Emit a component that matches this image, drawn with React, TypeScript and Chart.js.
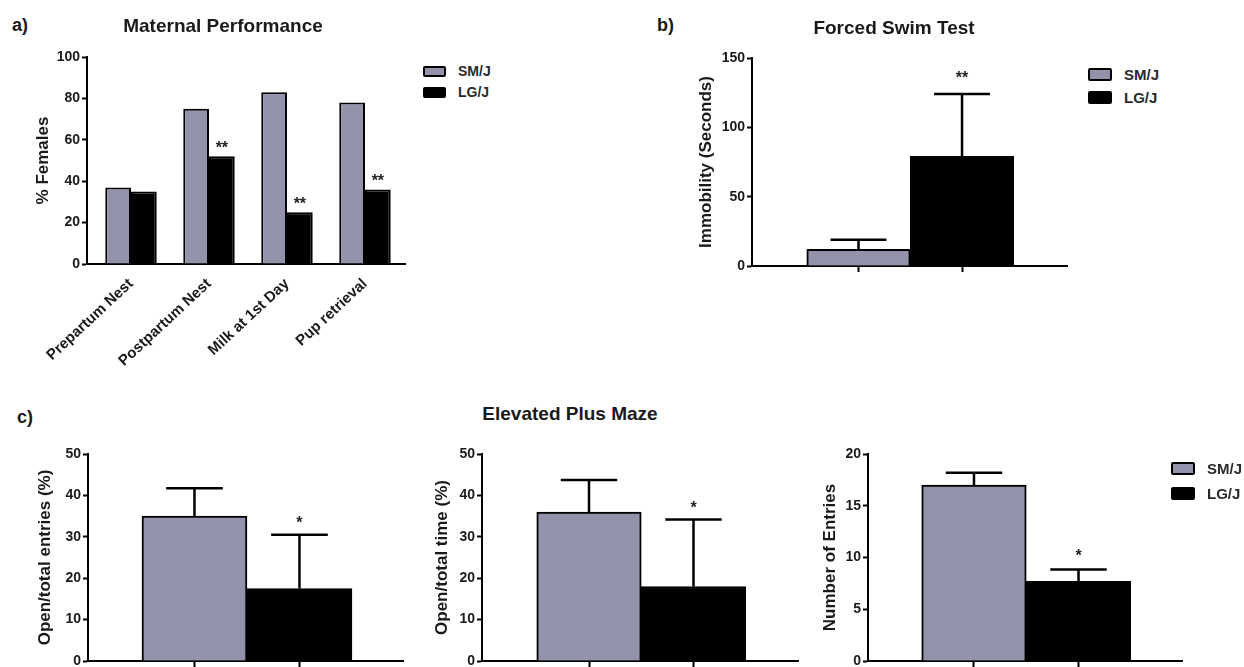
import React, { useEffect, useRef } from 'react';
import { Chart, registerables } from 'chart.js';

Chart.register(...registerables);

const FONT = '"Liberation Sans", Arial, Helvetica, sans-serif';
const GREY = '#9292aa';
const BLACK = '#000000';
const INK = '#1a1a1a';

// ---- shared ----
const seriesNames = ['SM/J', 'LG/J'];

// ---- a) Maternal Performance ----
const maternalCategories = ['Prepartum Nest', 'Postpartum Nest', 'Milk at 1st Day', 'Pup retrieval'];
const maternalSMJ = [37, 75, 83, 78];
const maternalLGJ = [35, 52, 25, 36];
const maternalLGJStars = ['', '**', '**', '**'];
const maternalYTicks = [0, 20, 40, 60, 80, 100];

// ---- b) Forced Swim Test ----
const swimMeans = [12, 79];
const swimSEM = [7, 45];
const swimStars = ['', '**'];
const swimYTicks = [0, 50, 100, 150];

// ---- c) Elevated Plus Maze ----
const epmEntriesMeans = [35, 17.5];
const epmEntriesSEM = [6.7, 13];
const epmEntriesStars = ['', '*'];
const epmEntriesYTicks = [0, 10, 20, 30, 40, 50];

const epmTimeMeans = [36, 18];
const epmTimeSEM = [7.7, 16.2];
const epmTimeStars = ['', '*'];
const epmTimeYTicks = [0, 10, 20, 30, 40, 50];

const epmNumberMeans = [17, 7.7];
const epmNumberSEM = [1.2, 1.15];
const epmNumberStars = ['', '*'];
const epmNumberYTicks = [0, 5, 10, 15, 20];

const pairDatasets = (means: number[], sem: number[], stars: string[]) =>
  seriesNames.map((name, i) => ({
    label: name,
    data: [{ x: i, y: means[i] }],
    errors: [sem[i]],
    stars: [stars[i]],
    backgroundColor: i === 0 ? GREY : BLACK,
  }));

const errorBarPlugin = {
  id: 'errorBars',
  afterDatasetsDraw(chart: any, _args: any, opts: any) {
    const ctx = chart.ctx;
    const yScale = chart.scales.y;
    chart.data.datasets.forEach((ds: any, i: number) => {
      const meta = chart.getDatasetMeta(i);
      meta.data.forEach((bar: any, j: number) => {
        const v = ds.data[j].y;
        let top = bar.y;
        const err = ds.errors ? ds.errors[j] : null;
        if (err != null && err > 0) {
          const yErr = yScale.getPixelForValue(v + err);
          const half = (bar.width * (opts.capRatio ?? 0.54)) / 2;
          ctx.save();
          ctx.strokeStyle = '#000';
          ctx.lineWidth = 2.5;
          ctx.beginPath();
          ctx.moveTo(bar.x, bar.y);
          ctx.lineTo(bar.x, yErr);
          ctx.moveTo(bar.x - half, yErr);
          ctx.lineTo(bar.x + half, yErr);
          ctx.stroke();
          ctx.restore();
          top = yErr;
        }
        const star = ds.stars ? ds.stars[j] : '';
        if (star) {
          ctx.save();
          ctx.fillStyle = '#222';
          ctx.font = `bold 16px ${FONT}`;
          ctx.textAlign = 'center';
          ctx.textBaseline = 'alphabetic';
          ctx.fillText(star, bar.x, top - (opts.starGap ?? 4));
          ctx.restore();
        }
      });
    });
  },
};

type Box = { left: number; top: number; width: number; height: number };
type Area = { left: number; right: number; top: number; bottom: number };
type PanelCfg = {
  canvas: Box;
  area: Area;
  xRange: [number, number];
  xTicks: number[];
  xLabels: string[];
  xLabelSize: number;
  rotation: number;
  showXTicks: boolean;
  yTicks: number[];
  yTitle: string;
  yTitleX: number;
  grouped: boolean;
  categoryPercentage: number;
  starGap: number;
  datasets: any[];
};

const panels: PanelCfg[] = [
  {
    canvas: { left: 0, top: 35, width: 420, height: 345 },
    area: { left: 87, right: 405, top: 57, bottom: 264 },
    xRange: [-0.564, 3.513],
    xTicks: [0, 1, 2, 3],
    xLabels: maternalCategories,
    xLabelSize: 15,
    rotation: 43,
    showXTicks: false,
    yTicks: maternalYTicks,
    yTitle: '% Females',
    yTitleX: 43,
    grouped: true,
    categoryPercentage: 0.66,
    starGap: 3,
    datasets: [
      { label: seriesNames[0], data: maternalSMJ.map((v, i) => ({ x: i, y: v })), backgroundColor: GREY },
      {
        label: seriesNames[1],
        data: maternalLGJ.map((v, i) => ({ x: i, y: v })),
        backgroundColor: BLACK,
        stars: maternalLGJStars,
      },
    ],
  },
  {
    canvas: { left: 660, top: 35, width: 420, height: 245 },
    area: { left: 752, right: 1067, top: 58, bottom: 266 },
    xRange: [-1.029, 2.014],
    xTicks: [0, 1],
    xLabels: [],
    xLabelSize: 14,
    rotation: 0,
    showXTicks: true,
    yTicks: swimYTicks,
    yTitle: 'Immobility (Seconds)',
    yTitleX: 706,
    grouped: false,
    categoryPercentage: 1,
    starGap: 11,
    datasets: pairDatasets(swimMeans, swimSEM, swimStars),
  },
  {
    canvas: { left: 0, top: 430, width: 420, height: 245 },
    area: { left: 88, right: 403, top: 454, bottom: 661 },
    xRange: [-1.014, 1.986],
    xTicks: [0, 1],
    xLabels: [],
    xLabelSize: 14,
    rotation: 0,
    showXTicks: true,
    yTicks: epmEntriesYTicks,
    yTitle: 'Open/total entries (%)',
    yTitleX: 45,
    grouped: false,
    categoryPercentage: 1,
    starGap: 7,
    datasets: pairDatasets(epmEntriesMeans, epmEntriesSEM, epmEntriesStars),
  },
  {
    canvas: { left: 420, top: 430, width: 390, height: 245 },
    area: { left: 482, right: 798, top: 454, bottom: 661 },
    xRange: [-1.024, 2.0],
    xTicks: [0, 1],
    xLabels: [],
    xLabelSize: 14,
    rotation: 0,
    showXTicks: true,
    yTicks: epmTimeYTicks,
    yTitle: 'Open/total time (%)',
    yTitleX: 442,
    grouped: false,
    categoryPercentage: 1,
    starGap: 6,
    datasets: pairDatasets(epmTimeMeans, epmTimeSEM, epmTimeStars),
  },
  {
    canvas: { left: 810, top: 430, width: 380, height: 245 },
    area: { left: 868, right: 1182, top: 454, bottom: 661 },
    xRange: [-1.014, 1.99],
    xTicks: [0, 1],
    xLabels: [],
    xLabelSize: 14,
    rotation: 0,
    showXTicks: true,
    yTicks: epmNumberYTicks,
    yTitle: 'Number of Entries',
    yTitleX: 830,
    grouped: false,
    categoryPercentage: 1,
    starGap: 8,
    datasets: pairDatasets(epmNumberMeans, epmNumberSEM, epmNumberStars),
  },
];

const TITLE_SIZE = 17;

function BarPanel({ cfg }: { cfg: PanelCfg }) {
  const ref = useRef<HTMLCanvasElement>(null);
  useEffect(() => {
    const { canvas, area } = cfg;
    const yW = area.left - canvas.left;
    const xH = canvas.top + canvas.height - area.bottom;
    const padTop = cfg.yTitleX - canvas.left - (TITLE_SIZE * 1.2) / 2;
    const datasets = cfg.datasets.map((d) => ({
      ...d,
      borderColor: '#000',
      borderWidth: 2,
      grouped: cfg.grouped,
      categoryPercentage: cfg.categoryPercentage,
      barPercentage: 1,
    }));
    const chart = new Chart(ref.current as HTMLCanvasElement, {
      type: 'bar',
      data: { datasets } as any,
      options: {
        responsive: false,
        animation: false,
        events: [],
        layout: {
          padding: {
            left: 0,
            top: area.top - canvas.top,
            right: canvas.left + canvas.width - area.right,
            bottom: 0,
          },
        },
        plugins: {
          legend: { display: false },
          tooltip: { enabled: false },
          errorBars: { starGap: cfg.starGap, capRatio: 0.54 },
        } as any,
        scales: {
          x: {
            type: 'linear',
            min: cfg.xRange[0],
            max: cfg.xRange[1],
            offset: false,
            afterBuildTicks: (s: any) => {
              s.ticks = cfg.xTicks.map((v) => ({ value: v }));
            },
            afterFit: (s: any) => {
              s.height = xH;
            },
            grid: {
              display: true,
              offset: false,
              drawOnChartArea: false,
              drawTicks: cfg.showXTicks,
              tickLength: 6,
              tickWidth: 2,
              tickColor: '#000',
            },
            border: { display: true, color: '#000', width: 2 },
            ticks: {
              autoSkip: false,
              minRotation: cfg.rotation,
              maxRotation: cfg.rotation,
              padding: 11,
              color: INK,
              font: { family: FONT, size: cfg.xLabelSize, weight: 'bold' },
              callback: (v: any) => cfg.xLabels[v] ?? '',
            },
          },
          y: {
            type: 'linear',
            min: cfg.yTicks[0],
            max: cfg.yTicks[cfg.yTicks.length - 1],
            afterBuildTicks: (s: any) => {
              s.ticks = cfg.yTicks.map((v) => ({ value: v }));
            },
            afterFit: (s: any) => {
              s.width = yW;
            },
            grid: {
              display: true,
              drawOnChartArea: false,
              drawTicks: true,
              tickLength: 5,
              tickWidth: 2,
              tickColor: '#000',
            },
            border: { display: true, color: '#000', width: 2 },
            ticks: {
              padding: 2,
              color: INK,
              font: { family: FONT, size: 14, weight: 'bold' },
            },
            title: {
              display: true,
              text: cfg.yTitle,
              color: INK,
              font: { family: FONT, size: TITLE_SIZE, weight: 'bold' },
              padding: { top: padTop, bottom: 0 },
            },
          },
        },
      } as any,
      plugins: [errorBarPlugin as any],
    });
    return () => chart.destroy();
  }, [cfg]);
  const { canvas } = cfg;
  return (
    <canvas
      ref={ref}
      width={canvas.width}
      height={canvas.height}
      style={{ position: 'absolute', left: canvas.left, top: canvas.top, width: canvas.width, height: canvas.height }}
    />
  );
}

const textStyle: React.CSSProperties = {
  position: 'absolute',
  fontFamily: FONT,
  fontWeight: 'bold',
  color: INK,
  whiteSpace: 'nowrap',
  lineHeight: 1,
};

function CenterText({ x, y, size, children }: { x: number; y: number; size: number; children: React.ReactNode }) {
  return (
    <div style={{ ...textStyle, left: x, top: y, fontSize: size, transform: 'translate(-50%, -50%)' }}>{children}</div>
  );
}

function LeftText({ x, y, size, children, color }: { x: number; y: number; size: number; children: React.ReactNode; color?: string }) {
  return (
    <div style={{ ...textStyle, left: x, top: y, fontSize: size, transform: 'translateY(-50%)', color: color ?? INK }}>
      {children}
    </div>
  );
}

function Legend({ x, y1, y2, boxW, boxH, size }: { x: number; y1: number; y2: number; boxW: number; boxH: number; size: number }) {
  const rows = [
    { name: seriesNames[0], color: GREY, y: y1 },
    { name: seriesNames[1], color: BLACK, y: y2 },
  ];
  return (
    <>
      {rows.map((r) => (
        <React.Fragment key={r.name}>
          <div
            style={{
              position: 'absolute',
              left: x,
              top: r.y - boxH / 2,
              width: boxW,
              height: boxH,
              boxSizing: 'border-box',
              border: '2.5px solid #000',
              borderRadius: 2,
              background: r.color,
            }}
          />
          <LeftText x={x + boxW + 12} y={r.y} size={size} color="#2a2a2a">
            {r.name}
          </LeftText>
        </React.Fragment>
      ))}
    </>
  );
}

export default function App() {
  return (
    <div
      style={{
        position: 'absolute',
        left: 0,
        top: 0,
        width: 1244,
        height: 667,
        overflow: 'hidden',
        background: '#ffffff',
      }}
    >
      {panels.map((p, i) => (
        <BarPanel key={i} cfg={p} />
      ))}
      <LeftText x={12} y={25} size={18}>a)</LeftText>
      <LeftText x={657} y={25} size={18}>b)</LeftText>
      <LeftText x={17} y={417} size={18}>c)</LeftText>
      <CenterText x={223} y={25} size={19}>Maternal Performance</CenterText>
      <CenterText x={894} y={27} size={19}>Forced Swim Test</CenterText>
      <CenterText x={570} y={413} size={19}>Elevated Plus Maze</CenterText>
      <Legend x={423} y1={71} y2={92} boxW={23} boxH={11} size={14} />
      <Legend x={1088} y1={74} y2={97} boxW={24} boxH={13} size={15} />
      <Legend x={1171} y1={468} y2={493} boxW={24} boxH={13} size={15} />
    </div>
  );
}
